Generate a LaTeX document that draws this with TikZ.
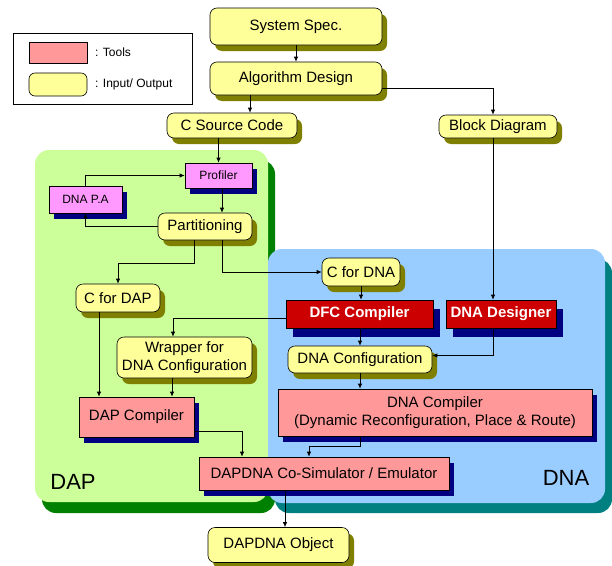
\documentclass[tikz,border=0pt]{standalone}
\usepackage{fontspec}
\setmainfont{Liberation Sans}
\usetikzlibrary{arrows.meta}
\usetikzlibrary{shadows}

\definecolor{ioyellow}{HTML}{FFFF99}
\definecolor{ioshade}{HTML}{808000}
\definecolor{toolpink}{HTML}{FF9999}
\definecolor{profviolet}{HTML}{FF99FF}
\definecolor{dfcred}{HTML}{CC0000}
\definecolor{toolshade}{HTML}{000080}
\definecolor{dapgreen}{HTML}{CCFF99}
\definecolor{dapshade}{HTML}{008000}
\definecolor{dnablue}{HTML}{99CCFF}
\definecolor{dnashade}{HTML}{008080}

\begin{document}
\begin{tikzpicture}[x=1pt, y=-1pt, >={Latex[length=5pt,width=4.5pt]},
    every node/.style={font=\fontsize{15}{18}\selectfont, inner sep=1pt, align=center},
    io/.style={draw, line width=0.6pt, rounded corners=7pt, fill=ioyellow,
        drop shadow={shadow xshift=5pt, shadow yshift=-6pt, fill=ioshade, opacity=1}},
    tool/.style={draw, line width=0.6pt, fill=toolpink,
        drop shadow={shadow xshift=5pt, shadow yshift=-6pt, fill=toolshade, opacity=1}},
    anal/.style={tool, fill=profviolet, font=\fontsize{12}{14}\selectfont},
    dnatool/.style={draw, line width=0.6pt, fill=dfcred, text=white, font=\fontsize{15}{18}\selectfont\bfseries,
        drop shadow={shadow xshift=7pt, shadow yshift=-9pt, fill=toolshade, opacity=1}},
    arr/.style={->, line width=0.8pt}]
        \useasboundingbox (0,0) rectangle (612,565);

        \fill[dapshade, rounded corners=14pt] (42,160) rectangle (275,513);
        \fill[dapgreen, rounded corners=14pt] (35,150) rectangle (268,502);
        \fill[dnashade, rounded corners=14pt] (275,259) rectangle (612,513);
        \fill[dnablue, rounded corners=14pt] (268,249) rectangle (605,503);

        \node[font=\fontsize{22}{24}\selectfont] (daplabel) at (73,482) {DAP};
        \node[font=\fontsize{22}{24}\selectfont] (dnalabel) at (566,478) {DNA};

        \draw[line width=0.6pt, fill=white] (13,33) rectangle (192,104);
        \node[draw, line width=0.6pt, fill=toolpink, minimum width=58pt, minimum height=21pt] (legtool) at (58,52.5) {};
        \node[anchor=west, font=\fontsize{12}{14}\selectfont] (legtooltext) at (94,52) {: Tools};
        \node[draw, line width=0.6pt, rounded corners=6pt, fill=ioyellow, minimum width=58pt, minimum height=23pt] (legio) at (58,84.5) {};
        \node[anchor=west, font=\fontsize{12}{14}\selectfont] (legiotext) at (94,84) {: Input/ Output};

        \node[io, minimum width=172pt, minimum height=37pt] (spec) at (296,26.5) {System Spec.};

        \node[io, minimum width=172pt, minimum height=33pt] (algo) at (296,78.5) {Algorithm Design};

        \node[io, minimum width=130pt, minimum height=25pt] (csrc) at (232,125.5) {C Source Code};

        \node[io, minimum width=118pt, minimum height=23pt] (block) at (498,126.5) {Block Diagram};

        \node[anal, minimum width=67pt, minimum height=25pt] (prof) at (218.5,175.5) {Profiler};

        \node[anal, minimum width=73pt, minimum height=27pt] (dnapa) at (85.5,199.5) {DNA P.A};

        \node[io, minimum width=94pt, minimum height=27pt] (part) at (205,226.5) {Partitioning};

        \node[io, minimum width=84pt, minimum height=28pt] (cdap) at (118,298) {C for DAP};

        \node[io, minimum width=78pt, minimum height=28pt] (cdna) at (361,272) {C for DNA};

        \node[dnatool, minimum width=147pt, minimum height=28pt] (dfc) at (359.5,314) {DFC Compiler};

        \node[dnatool, minimum width=110pt, minimum height=28pt] (dnades) at (501,314) {DNA Designer};

        \node[io, minimum width=144pt, minimum height=27pt] (dnacfg) at (360,359.5) {DNA Configuration};

        \node[io, minimum width=135pt, minimum height=41pt] (wrap) at (184.5,357.5) {Wrapper for\\DNA Configuration};

        \node[tool, minimum width=115pt, minimum height=40pt] (dapcomp) at (136.5,417) {DAP Compiler};

        \node[tool, minimum width=314pt, minimum height=47pt] (dnacomp) at (435,412.5) {DNA Compiler\\(Dynamic Reconfiguration, Place \& Route)};

        \node[tool, minimum width=250pt, minimum height=33pt] (cosim) at (324,473.5) {DAPDNA Co-Simulator / Emulator};

        \node[io, minimum width=141pt, minimum height=35pt] (obj) at (278.5,545) {DAPDNA Object};

        \draw[arr] (spec.south) -- (algo.north);
        \draw[arr] ([xshift=18pt]csrc.north |- algo.south) -- ([xshift=18pt]csrc.north);
        \draw[arr] ([yshift=-9.5pt]algo.east) -| ([xshift=-5pt]block.north);
        \draw[arr] (prof.north |- csrc.south) -- (prof.north);
        \draw[arr] (dnapa.north) |- (prof.west);
        \draw[arr] (part.west) -| (dnapa.south);
        \draw[arr] ([xshift=3.5pt]prof.south) -- ([xshift=3.5pt]prof.south |- part.north);
        \draw[arr] ([xshift=-11pt]part.south) -- ++(0,23) -| (cdap.north);
        \draw[arr] ([xshift=17pt]part.south) |- (cdna.west);
        \draw[arr] (cdna.south) -- (cdna.south |- dfc.north);
        \draw[arr] ([yshift=-4.5pt]dfc.west) -| ([xshift=-11.5pt]wrap.north);
        \draw[arr] (dnacfg.north |- dfc.south) -- (dnacfg.north);
        \draw[arr] ([xshift=-5pt]block.south) -- ([xshift=-5pt]block.south |- dnades.north);
        \draw[arr] ([xshift=-8pt]dnades.south) |- ([yshift=4pt]dnacfg.east);
        \draw[arr] (dnacfg.south) -- (dnacfg.south |- dnacomp.north);
        \draw[arr] ([xshift=-19pt]cdap.south) -- ([xshift=-19pt]cdap.south |- dapcomp.north);
        \draw[arr] ([xshift=-12.5pt]wrap.south) -- ([xshift=-12.5pt]wrap.south |- dapcomp.north);
        \draw[arr] ([yshift=-14pt]dapcomp.east) -| ([xshift=-82pt]cosim.north);
        \draw[arr] (dnacfg.south |- dnacomp.south) -- ++(0,10) -| ([xshift=-15pt]cosim.north);
        \draw[arr] ([xshift=6.5pt]obj.north |- cosim.south) -- ([xshift=6.5pt]obj.north);
      \end{tikzpicture}
\end{document}
